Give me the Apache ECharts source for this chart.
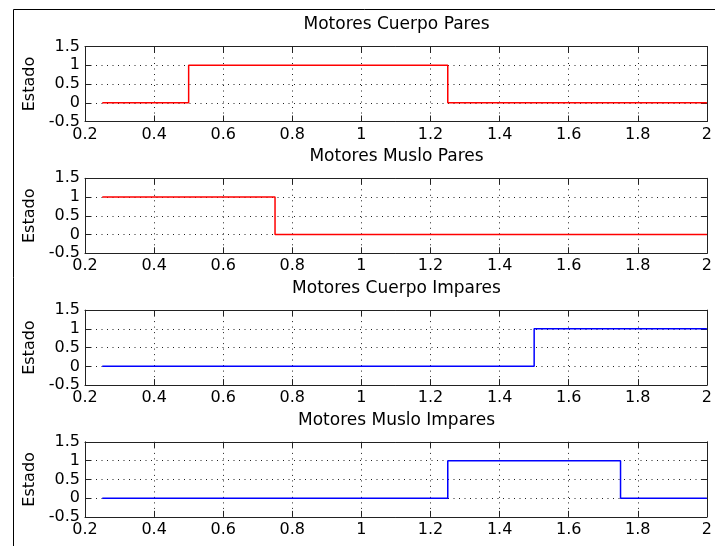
<!DOCTYPE html>
<html>
<head>
<meta charset="utf-8">
<script src="https://cdn.jsdelivr.net/npm/echarts@6/dist/echarts.min.js"></script>
<style>
  html, body { margin: 0; padding: 0; background: #fff; }
  #chart { width: 715px; height: 546px; }
</style>
</head>
<body>
<div id="chart"></div>
<script>
// Motor state signals: switching instants (s) and the state held from each instant on.
const panelTitles = [
  'Motores Cuerpo Pares',
  'Motores Muslo Pares',
  'Motores Cuerpo Impares',
  'Motores Muslo Impares'
];
const cuerpoParesT = [0.25, 0.5, 1.25, 2];
const cuerpoParesS = [0, 1, 0, 0];
const musloParesT = [0.25, 0.75, 2];
const musloParesS = [1, 0, 0];
const cuerpoImparesT = [0.25, 1.5, 2];
const cuerpoImparesS = [0, 1, 1];
const musloImparesT = [0.25, 1.25, 1.75, 2];
const musloImparesS = [0, 1, 0, 0];

const xTicks = [0.2, 0.4, 0.6, 0.8, 1, 1.2, 1.4, 1.6, 1.8, 2];
const yTicks = [-0.5, 0, 0.5, 1, 1.5];
const yLabel = 'Estado';

const signals = [
  { t: cuerpoParesT, s: cuerpoParesS, color: '#ff0000' },
  { t: musloParesT, s: musloParesS, color: '#ff0000' },
  { t: cuerpoImparesT, s: cuerpoImparesS, color: '#0000ff' },
  { t: musloImparesT, s: musloImparesS, color: '#0000ff' }
];

const FONT = 'DejaVu Sans';
const LEFT = 85, RIGHT = 7, TOP0 = 46.5, STEP = 131.8, H = 75;
const xMin = xTicks[0], xMax = xTicks[xTicks.length - 1];
const xStep = xTicks[1] - xTicks[0];
const yMin = yTicks[0], yMax = yTicks[yTicks.length - 1];
const yStep = yTicks[1] - yTicks[0];
const lineCol = '#222';
const gridStyle = { color: '#222', type: [1, 4.5], width: 1 };

const grids = [], xAxes = [], yAxes = [], series = [], titles = [];

signals.forEach((sig, i) => {
  const top = TOP0 + STEP * i;
  grids.push({ left: LEFT, right: RIGHT, top: top, height: H, containLabel: false });
  titles.push({
    text: panelTitles[i],
    left: LEFT + (715 - LEFT - RIGHT) / 2,
    top: top - 21.5,
    textAlign: 'center',
    textVerticalAlign: 'middle',
    padding: 0,
    textStyle: { fontFamily: FONT, fontSize: 17, fontWeight: 'normal', color: '#000' }
  });
  const xBase = {
    gridIndex: i, type: 'value', min: xMin, max: xMax, interval: xStep,
    axisLine: { show: true, onZero: false, lineStyle: { color: lineCol, width: 1 } },
    axisTick: { show: true, inside: true, length: 6, lineStyle: { color: lineCol } }
  };
  xAxes.push(Object.assign({}, xBase, {
    position: 'bottom',
    axisLabel: { show: true, margin: 5, color: '#000', fontFamily: FONT, fontSize: 16,
                 showMinLabel: true, showMaxLabel: true },
    splitLine: { show: true, lineStyle: gridStyle }
  }));
  xAxes.push(Object.assign({}, xBase, {
    position: 'top',
    axisLabel: { show: false },
    splitLine: { show: false }
  }));
  const yBase = {
    gridIndex: i, type: 'value', min: yMin, max: yMax, interval: yStep,
    axisLine: { show: true, onZero: false, lineStyle: { color: lineCol, width: 1 } },
    axisTick: { show: true, inside: true, length: 6, lineStyle: { color: lineCol } }
  };
  yAxes.push(Object.assign({}, yBase, {
    position: 'left',
    name: yLabel,
    nameLocation: 'middle',
    nameGap: 47,
    nameTextStyle: { fontFamily: FONT, fontSize: 16, color: '#000' },
    axisLabel: { show: true, margin: 5, color: '#000', fontFamily: FONT, fontSize: 16 },
    splitLine: { show: true, lineStyle: gridStyle }
  }));
  yAxes.push(Object.assign({}, yBase, {
    position: 'right',
    axisLabel: { show: false },
    splitLine: { show: false }
  }));
  series.push({
    type: 'line',
    xAxisIndex: 2 * i,
    yAxisIndex: 2 * i,
    step: 'end',
    symbol: 'none',
    animation: false,
    data: sig.t.map((t, k) => [t, sig.s[k]]),
    lineStyle: { color: sig.color, width: 1.5 },
    z: 5
  });
});

const chart = echarts.init(document.getElementById('chart'), null, { renderer: 'canvas' });
chart.setOption({
  animation: false,
  backgroundColor: '#fff',
  title: titles,
  grid: grids,
  xAxis: xAxes,
  yAxis: yAxes,
  series: series,
  graphic: [{
    type: 'polyline',
    shape: { points: [[13.5, 546], [13.5, 9.5], [715, 9.5]] },
    style: { stroke: '#000', lineWidth: 1, fill: null },
    silent: true
  }]
});
</script>
</body>
</html>
